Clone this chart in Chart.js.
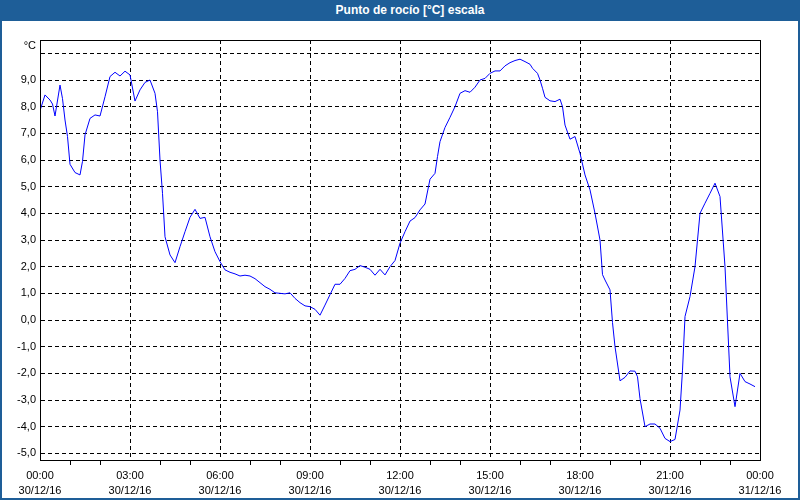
<!DOCTYPE html>
<html><head><meta charset="utf-8">
<script src="https://cdn.jsdelivr.net/npm/chart.js@4/dist/chart.umd.min.js"></script>
<style>
html,body{margin:0;padding:0;background:#fff;}
#wrap{position:relative;width:800px;height:500px;overflow:hidden;background:#fff;}
#frame{position:absolute;left:0;top:0;width:800px;height:500px;box-sizing:border-box;border:2px solid #1e5e98;pointer-events:none;}
#title{position:absolute;left:0;top:0;width:800px;height:21px;background:#1e5e98;color:#fff;font:bold 12px 'Liberation Sans',Arial,sans-serif;line-height:21px;text-align:center;padding-left:20px;box-sizing:border-box;}
canvas{position:absolute;left:0;top:0;}
</style></head>
<body>
<div id="wrap">
<canvas id="c" width="800" height="500"></canvas>
<div id="frame"></div>
<div id="title">Punto de rocío [°C] escala</div>
</div>
<script>
// Time of each reading, minutes after 00:00 on 30/12/16
const minutes = [0,10,20,25,30,40,45,50,55,60,70,80,85,90,100,110,120,130,140,150,160,170,180,190,200,210,220,230,235,240,245,250,260,270,280,290,300,310,320,330,340,350,360,370,380,390,400,410,420,430,440,450,460,470,480,490,500,510,520,530,540,550,560,570,580,590,600,610,620,630,640,650,660,670,680,690,700,710,720,730,740,750,760,770,780,790,795,800,810,820,830,840,850,860,870,880,890,900,910,920,930,940,950,960,970,980,985,995,1000,1005,1010,1020,1030,1040,1045,1050,1060,1070,1080,1090,1100,1110,1120,1125,1130,1140,1145,1150,1160,1170,1180,1190,1195,1200,1210,1220,1230,1240,1250,1260,1270,1280,1285,1290,1300,1310,1320,1330,1340,1350,1360,1370,1380,1390,1400,1410,1420,1430];
// Dew point, °C
const dewPoint = [7.85,8.44,8.25,8.1,7.65,8.81,8.3,7.5,6.88,5.84,5.53,5.44,5.95,6.94,7.56,7.69,7.65,8.37,9.13,9.29,9.15,9.33,9.19,8.21,8.63,8.91,9.0,8.5,7.81,6.0,4.75,3.12,2.44,2.15,2.75,3.31,3.85,4.15,3.81,3.85,3.12,2.56,2.19,1.88,1.79,1.73,1.65,1.68,1.65,1.55,1.4,1.25,1.15,1.02,1.0,0.98,1.02,0.81,0.65,0.53,0.5,0.4,0.18,0.56,0.95,1.34,1.34,1.56,1.85,1.9,2.04,1.98,1.9,1.68,1.9,1.69,2.0,2.23,2.88,3.31,3.71,3.84,4.13,4.35,5.28,5.5,6.13,6.69,7.22,7.6,8.0,8.5,8.6,8.54,8.73,9.0,9.06,9.25,9.34,9.34,9.53,9.65,9.73,9.78,9.69,9.59,9.44,9.25,9.0,8.69,8.35,8.22,8.19,8.28,8.0,7.31,6.78,6.88,6.25,5.44,4.88,4.0,3.0,1.7,1.5,1.13,-0.1,-1.0,-2.28,-2.15,-1.91,-1.92,-2.13,-2.95,-4.0,-3.9,-3.9,-4.06,-4.44,-4.56,-4.48,-3.38,-1.88,0.13,0.88,2.0,4.0,4.38,4.75,5.13,4.63,2.0,-2.13,-3.25,-2.0,-2.31,-2.4,-2.5];
// Axis tick labels (every 3 hours)
const xTickTimes = ['00:00','03:00','06:00','09:00','12:00','15:00','18:00','21:00','00:00'];
const xTickDates = ['30/12/16','30/12/16','30/12/16','30/12/16','30/12/16','30/12/16','30/12/16','30/12/16','31/12/16'];
const yUnit = '°C';

const points = minutes.map((m, i) => ({x: m / 60, y: dewPoint[i]}));
const FONT = "'Liberation Sans', Arial, sans-serif";

const framePlugin = {
  id: 'framePlugin',
  afterDraw(chart) {
    const {ctx, chartArea: a} = chart;
    ctx.save();
    ctx.strokeStyle = '#000';
    ctx.lineWidth = 1;
    ctx.strokeRect(a.left + 0.5, a.top + 0.5, a.right - a.left, a.bottom - a.top);
    ctx.fillStyle = '#000';
    ctx.font = '11px ' + FONT;
    ctx.textAlign = 'right';
    ctx.textBaseline = 'middle';
    ctx.fillText(yUnit, a.left - 4, a.top + 6);
    ctx.restore();
  }
};

new Chart(document.getElementById('c'), {
  type: 'line',
  data: {
    datasets: [{
      data: points,
      borderColor: '#0000ff',
      borderWidth: 1,
      pointRadius: 0,
      tension: 0,
      fill: false
    }]
  },
  options: {
    responsive: false,
    animation: false,
    devicePixelRatio: 1,
    layout: {padding: {top: 40, right: 40, left: 0, bottom: 0}},
    plugins: {legend: {display: false}, tooltip: {enabled: false}, title: {display: false}},
    scales: {
      x: {
        type: 'linear',
        min: 0, max: 24,
        afterFit(s) { s.height = 40; },
        border: {display: true, color: '#000', width: 1, dash: [4, 3]},
        grid: {
          color: c => (c.tick && c.tick.value % 3 === 0) ? '#000' : 'rgba(0,0,0,0)',
          lineWidth: 1,
          drawTicks: true,
          tickLength: 5,
          tickColor: c => (c.tick && c.tick.value % 3 === 0) ? 'rgba(0,0,0,0)' : '#000'
        },
        ticks: {
          stepSize: 1,
          autoSkip: false,
          maxRotation: 0,
          minRotation: 0,
          padding: 3,
          color: '#000',
          font: {family: FONT, size: 11, lineHeight: 1.4},
          callback: v => (v % 3 === 0) ? [xTickTimes[v / 3], xTickDates[v / 3]] : ''
        }
      },
      y: {
        min: -5.25, max: 10.5,
        afterFit(s) { s.width = 40; },
        border: {display: true, color: '#000', width: 1, dash: [4, 3]},
        grid: {color: '#000', lineWidth: 1, drawTicks: false},
        ticks: {
          stepSize: 1,
          includeBounds: false,
          padding: 4,
          color: '#000',
          font: {family: FONT, size: 11},
          callback: v => v >= 10 ? '' : v.toFixed(1).replace('.', ',')
        }
      }
    }
  },
  plugins: [framePlugin]
});
</script>
</body></html>
